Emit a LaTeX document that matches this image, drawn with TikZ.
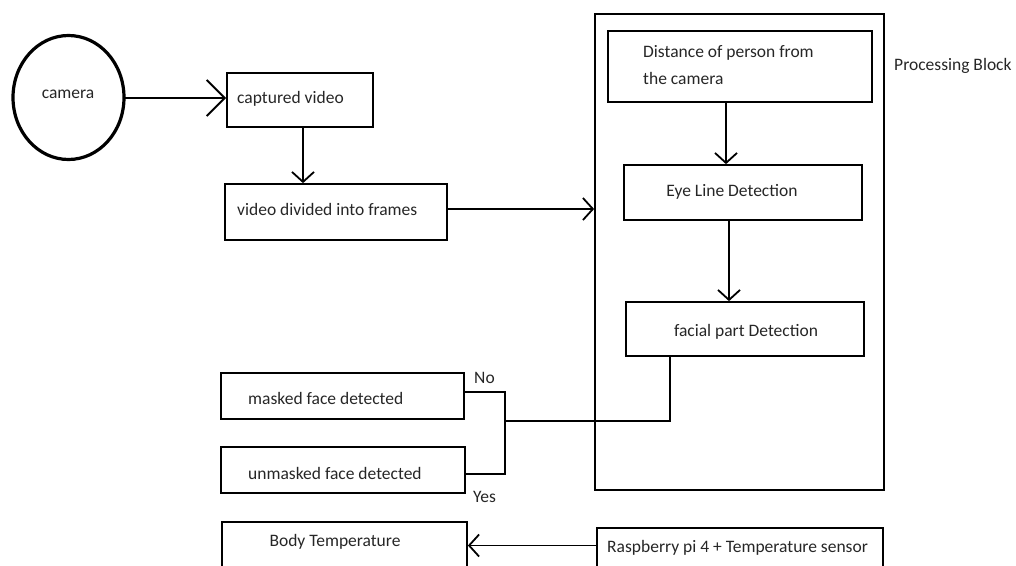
\documentclass[tikz,border=0pt]{standalone}
\usepackage{fontspec}
\setmainfont{Carlito}
\usetikzlibrary{arrows.meta}
\begin{document}
\begin{tikzpicture}[x=1pt,y=-1pt,
  box/.style={draw=black,line width=1.7pt,inner sep=0pt},
  txt/.style={inner sep=0pt,text=black!85,font=\fontsize{17.5}{21}\selectfont},
  conn/.style={draw=black,line width=1.6pt},
  arr/.style={conn,-{Straight Barb[length=10pt,width=22pt,line width=1.8pt]}},
  bigarr/.style={conn,-{Straight Barb[length=18pt,width=36pt,line width=2pt]}}]
\useasboundingbox (0,0) rectangle (1016,565);
\clip (0,0) rectangle (1016,565);
% camera
\draw[line width=3.2pt] (68.5,97.5) ellipse [x radius=55.5, y radius=62];
\coordinate (camE) at (124,98);
\node[txt] (camT) at (68,94) {camera};
% boxes
\node[box,minimum width=146pt,minimum height=54pt] (cap) at (300,100) {};
\node[txt,anchor=west] (capT) at (237,99) {captured video};
\node[box,minimum width=222pt,minimum height=56pt] (vid) at (336,212) {};
\node[txt,anchor=west] (vidT) at (237,209) {video divided into frames};
\node[box,minimum width=289pt,minimum height=476pt] (proc) at (739.5,252) {};
\node[txt,anchor=west] (procT) at (894,66) {Processing Block};
\node[box,minimum width=264pt,minimum height=71pt] (dist) at (740,66.5) {};
\node[txt,anchor=west,align=left,font=\fontsize{17.5}{27}\selectfont] (distT) at (643,65.5) {Distance of person from\\the camera};
\node[box,minimum width=238pt,minimum height=55pt] (eye) at (743,192.5) {};
\node[txt] (eyeT) at (732,192) {Eye Line Detection};
\node[box,minimum width=238pt,minimum height=54pt] (face) at (745,329) {};
\node[txt] (faceT) at (746,332) {facial part Detection};
\node[box,minimum width=243pt,minimum height=46pt] (mask) at (342.5,396) {};
\node[txt,anchor=west] (maskT) at (248,398) {masked face detected};
\node[box,minimum width=244pt,minimum height=46pt] (unm) at (343,470) {};
\node[txt,anchor=west] (unmT) at (248,473) {unmasked face detected};
\node[txt,anchor=west] (noT) at (474,378) {No};
\node[txt,anchor=west] (yesT) at (473,497) {Yes};
\node[box,minimum width=245pt,minimum height=46pt] (body) at (344.5,545) {};
\node[txt] (bodyT) at (335,542) {Body Temperature};
\node[box,minimum width=286pt,minimum height=46pt] (rasp) at (740,551) {};
\node[txt,anchor=west] (raspT) at (607,548) {Raspberry pi 4 + Temperature sensor};
\coordinate (j) at (505,421);
% connectors
\draw[bigarr] (camE) -- (camE -| cap.west);
\draw[arr] ([xshift=3pt]cap.south) -- ([xshift=3pt]cap.south |- vid.north);
\draw[arr] ([yshift=3pt]vid.east) -- ([yshift=3pt]vid.east -| proc.west);
\draw[arr] ([xshift=-14pt]dist.south) -- ([xshift=-14pt]dist.south |- eye.north);
\draw[arr] ([xshift=-14pt]eye.south) -- ([xshift=-14pt]eye.south |- face.north);
\draw[conn] ([xshift=-75pt]face.south) -- ([xshift=-75pt]face.south |- j) -- (j);
\draw[conn] ([yshift=4pt]mask.east) -- ([yshift=4pt]mask.east -| j) -- ([yshift=-4pt]unm.east -| j) -- ([yshift=-4pt]unm.east);
\draw[arr] ([yshift=5.5pt]rasp.west) -- ([yshift=5.5pt]rasp.west -| body.east);
\end{tikzpicture}
\end{document}
